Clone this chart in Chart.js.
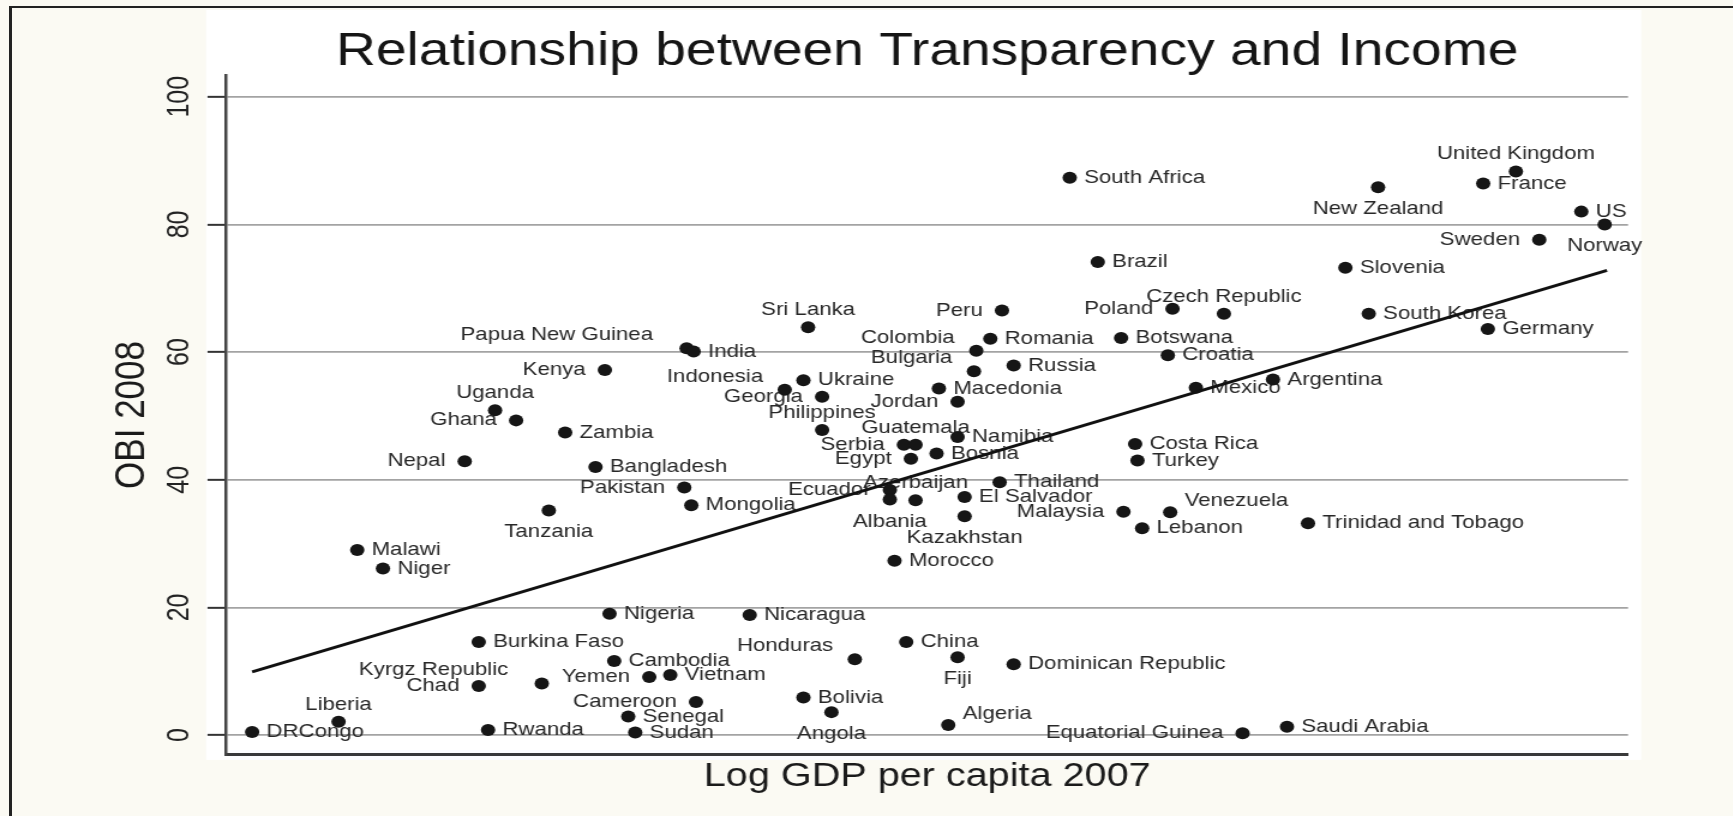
<!DOCTYPE html>
<html>
<head>
<meta charset="utf-8">
<title>Relationship between Transparency and Income</title>
<script src="https://cdn.jsdelivr.net/npm/chart.js@4.4.1/dist/chart.umd.min.js"></script>
<style>
  html, body { margin: 0; padding: 0; background: #fbfaf3; overflow: hidden; }
  #wrap { position: absolute; left: 0; top: 0; width: 1444px; height: 816px; }
  #myChart { transform: scaleX(1.2); transform-origin: 0 0; }
  #frame { position: absolute; left: 9px; top: 6px; right: 0; bottom: 0;
           border-left: 3px solid #222; border-top: 2px solid #222; pointer-events: none; }
</style>
</head>
<body>
<div id="wrap"><canvas id="myChart"></canvas></div>
<div id="frame"></div>
<script>
  // values
  const countries = ['DRCongo', 'Liberia', 'Malawi', 'Niger', 'Nepal', 'Burkina Faso', 'Chad', 'Rwanda',
    'Uganda', 'Ghana', 'Kyrgz Republic', 'Tanzania', 'Zambia', 'Bangladesh', 'Kenya', 'Nigeria',
    'Cambodia', 'Senegal', 'Sudan', 'Yemen', 'Vietnam', 'Pakistan', 'Papua New Guinea', 'Mongolia',
    'India', 'Cameroon', 'Nicaragua', 'Indonesia', 'Bolivia', 'Ukraine', 'Sri Lanka', 'Georgia',
    'Philippines', 'Angola', 'Honduras', 'Ecuador', 'Albania', 'Morocco', 'Serbia', 'China',
    'Egypt', 'Guatemala', 'Azerbaijan', 'Bosnia', 'Macedonia', 'Algeria', 'Namibia', 'Jordan',
    'Fiji', 'El Salvador', 'Kazakhstan', 'Bulgaria', 'Colombia', 'Romania', 'Thailand', 'Peru',
    'Dominican Republic', 'Russia', 'South Africa', 'Brazil', 'Botswana', 'Malaysia', 'Costa Rica', 'Turkey',
    'Lebanon', 'Croatia', 'Venezuela', 'Poland', 'Mexico', 'Czech Republic', 'Equatorial Guinea', 'Argentina',
    'Saudi Arabia', 'Trinidad and Tobago', 'Slovenia', 'South Korea', 'New Zealand', 'France', 'Germany',
    'United Kingdom', 'Sweden', 'US', 'Norway'];

  const logGdp = [5.51, 5.88, 5.96, 6.07, 6.42, 6.48, 6.48, 6.52,
    6.55, 6.64, 6.75, 6.78, 6.85, 6.98, 7.02, 7.04,
    7.06, 7.12, 7.15, 7.21, 7.30, 7.36, 7.37, 7.39,
    7.40, 7.41, 7.64, 7.79, 7.87, 7.87, 7.89, 7.95,
    7.95, 7.99, 8.09, 8.24, 8.24, 8.26, 8.30, 8.31,
    8.33, 8.35, 8.35, 8.44, 8.45, 8.49, 8.53, 8.53,
    8.53, 8.56, 8.56, 8.60, 8.61, 8.67, 8.71, 8.72,
    8.77, 8.77, 9.01, 9.13, 9.23, 9.24, 9.29, 9.30,
    9.32, 9.43, 9.44, 9.45, 9.55, 9.67, 9.75, 9.88,
    9.94, 10.03, 10.19, 10.29, 10.33, 10.78, 10.80,
    10.92, 11.02, 11.20, 11.30];

  const obi2008 = [0.5, 2.1, 29.0, 26.1, 42.9, 14.6, 7.7, 0.8,
    50.9, 49.3, 8.1, 35.2, 47.4, 42.0, 57.2, 19.0,
    11.6, 2.9, 0.4, 9.1, 9.4, 38.8, 60.6, 36.0,
    60.1, 5.2, 18.8, 54.1, 5.9, 55.6, 63.9, 53.0,
    47.8, 3.6, 11.9, 38.4, 36.9, 27.3, 45.5, 14.6,
    43.3, 45.5, 36.8, 44.1, 54.3, 1.6, 46.7, 52.2,
    12.2, 37.3, 34.3, 57.0, 60.2, 62.1, 39.6, 66.5,
    11.1, 57.9, 87.3, 74.1, 62.2, 35.0, 45.6, 43.0,
    32.4, 59.5, 34.9, 66.8, 54.4, 66.0, 0.3, 55.7,
    1.3, 33.2, 73.2, 66.0, 85.8, 86.4, 63.6,
    88.3, 77.6, 82.0, 80.0];

  // fitted line, read at its two ends
  const fitX = [5.51, 11.31];
  const fitY = [9.9, 72.8];

  const yTicks = [0, 20, 40, 60, 80, 100];
  const xRange = [5.4, 11.4];
  const yRange = [-3.1, 103.4];

  // label side as a clock position (3 = right is the default)
  const labelClock = {
    'Liberia': 12, 'Uganda': 12, 'Sri Lanka': 12, 'Philippines': 12, 'Guatemala': 12,
    'Azerbaijan': 12, 'Czech Republic': 12, 'United Kingdom': 12,
    'Tanzania': 6, 'Angola': 6, 'Albania': 6, 'Fiji': 6, 'Kazakhstan': 6, 'New Zealand': 6, 'Norway': 6,
    'Nepal': 9, 'Chad': 9, 'Ghana': 9, 'Kenya': 9, 'Yemen': 9, 'Pakistan': 9, 'Cameroon': 9,
    'Georgia': 9, 'Ecuador': 9, 'Serbia': 9, 'Egypt': 9, 'Jordan': 9, 'Peru': 9, 'Malaysia': 9,
    'Poland': 9, 'Equatorial Guinea': 9, 'Sweden': 9,
    'Kyrgz Republic': 11, 'Papua New Guinea': 11, 'Indonesia': 10, 'Honduras': 10,
    'Bulgaria': 10, 'Colombia': 10,
    'Algeria': 2, 'Venezuela': 2
  };

  const clock = {
    3: { dx: 12, dy: 0, align: 'left' },
    9: { dx: -16, dy: 0, align: 'right' },
    12: { dx: 0, dy: -17, align: 'center' },
    6: { dx: 0, dy: 22, align: 'center' },
    10: { dx: -18, dy: -13, align: 'right' },
    11: { dx: -28, dy: -13, align: 'right' },
    2: { dx: 12, dy: -11, align: 'left' }
  };

  const points = countries.map((c, i) => ({ x: logGdp[i], y: obi2008[i] }));
  const fitLine = fitX.map((x, i) => ({ x: x, y: fitY[i] }));

  const FONT = '"Liberation Sans", Arial, Helvetica, sans-serif';
  Chart.defaults.font.family = FONT;

  const paper = {
    id: 'paper',
    beforeDraw(chart) {
      const { ctx, chartArea } = chart;
      ctx.save();
      ctx.fillStyle = '#fbfaf3';
      ctx.fillRect(0, 0, chart.width, chart.height);
      ctx.fillStyle = '#ffffff';
      ctx.fillRect(chartArea.left - 17, 10, chartArea.right - chartArea.left + 28, chartArea.bottom - 5);
      ctx.restore();
    }
  };

  const pointLabels = {
    id: 'pointLabels',
    beforeDatasetsDraw(chart) {
      const meta = chart.getDatasetMeta(1);
      const ctx = chart.ctx;
      ctx.save();
      ctx.font = '18.5px ' + FONT;
      ctx.fillStyle = '#282828';
      ctx.textBaseline = 'middle';
      meta.data.forEach((pt, i) => {
        const name = countries[i];
        const c = clock[labelClock[name] || 3];
        ctx.textAlign = c.align;
        ctx.fillText(name, pt.x + c.dx, pt.y + c.dy);
      });
      ctx.restore();
    }
  };

  const ctx = document.getElementById('myChart');
  new Chart(ctx, {
    type: 'scatter',
    data: {
      datasets: [{
        type: 'line',
        data: fitLine,
        borderColor: '#111111',
        borderWidth: 3,
        pointRadius: 0,
        fill: false,
        order: 0
      }, {
        data: points,
        pointRadius: 6,
        pointHoverRadius: 6,
        backgroundColor: '#161616',
        borderWidth: 0,
        order: 1
      }]
    },
    options: {
      responsive: true,
      maintainAspectRatio: false,
      animation: false,
      layout: { padding: { top: 29, left: 89.8, right: 87.3, bottom: 19.5 } },
      plugins: {
        legend: { display: false },
        tooltip: { enabled: false },
        title: {
          display: true,
          text: 'Relationship between Transparency and Income',
          fullSize: false,
          color: '#151515',
          font: { size: 46, weight: 'normal', lineHeight: 1 },
          padding: { top: 0, bottom: 0 }
        }
      },
      scales: {
        x: {
          type: 'linear',
          min: xRange[0],
          max: xRange[1],
          grid: { display: false, drawTicks: false, tickLength: 0 },
          border: { display: true, color: '#3a3a3a', width: 3 },
          ticks: { display: false },
          title: {
            display: true,
            text: 'Log GDP per capita 2007',
            color: '#1a1a1a',
            font: { size: 33 },
            padding: { top: 2, bottom: 0 }
          }
        },
        y: {
          min: yRange[0],
          max: yRange[1],
          afterBuildTicks: axis => { axis.ticks = yTicks.map(v => ({ value: v })); },
          grid: {
            color: '#a3a3a3',
            lineWidth: 1.7,
            drawTicks: true,
            tickLength: 15.8,
            tickColor: '#333333',
            tickWidth: 2
          },
          border: { display: true, color: '#444444', width: 2.5 },
          ticks: {
            minRotation: 90,
            maxRotation: 90,
            crossAlign: 'center',
            padding: 2,
            color: '#222222',
            font: { size: 25 }
          },
          title: {
            display: true,
            text: 'OBI 2008',
            color: '#1a1a1a',
            font: { size: 35 },
            padding: { top: 0, bottom: 7.1 }
          }
        }
      }
    },
    plugins: [paper, pointLabels]
  });
</script>
</body>
</html>
